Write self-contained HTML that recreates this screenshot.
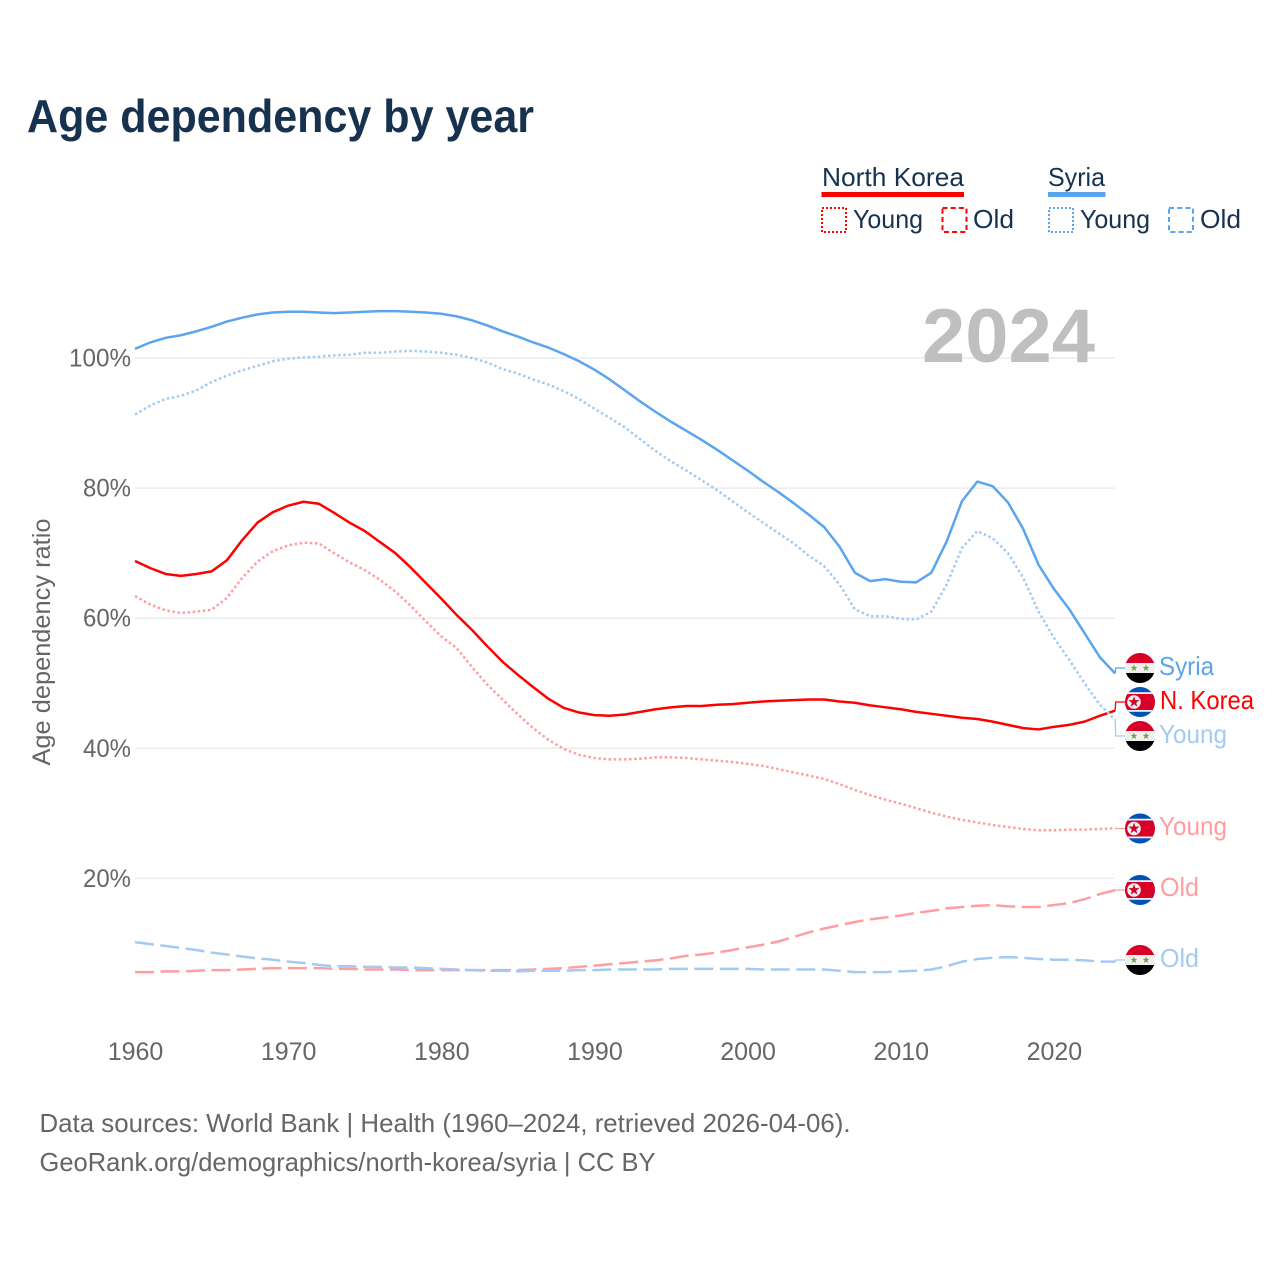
<!DOCTYPE html>
<html lang="en">
<head>
<meta charset="utf-8">
<title>Age dependency by year</title>
<style>
html,body{margin:0;padding:0;background:#fff}
svg{display:block}
text{font-family:"Liberation Sans",sans-serif}
.lg{font-size:26px;fill:#16324f}
.tick{font-size:25px;fill:#666}
.foot{font-size:26px;fill:#666}
.lab{font-size:26px}
</style>
</head>
<body>
<svg id="chart" xmlns="http://www.w3.org/2000/svg" width="1280" height="1280" viewBox="0 0 1280 1280">
  <defs>
    <clipPath id="flag-clip"><circle cx="0" cy="0" r="15"/></clipPath>
    <g id="flag-syria" clip-path="url(#flag-clip)">
      <rect x="-15" y="-15" width="30" height="10" fill="#d80027"/>
      <rect x="-15" y="-5" width="30" height="10" fill="#f0f0f0"/>
      <rect x="-15" y="5" width="30" height="10" fill="#000"/>
      <polygon points="-6,-3.6 -5.1,-1.1 -2.6,-1.1 -4.6,0.5 -3.9,3 -6,1.5 -8.1,3 -7.4,0.5 -9.4,-1.1 -6.9,-1.1" fill="#6da544"/>
      <polygon points="6,-3.6 6.9,-1.1 9.4,-1.1 7.4,0.5 8.1,3 6,1.5 3.9,3 4.6,0.5 2.6,-1.1 5.1,-1.1" fill="#6da544"/>
    </g>
    <g id="flag-nk" clip-path="url(#flag-clip)">
      <rect x="-15" y="-15" width="30" height="30" fill="#0052b4"/>
      <rect x="-15" y="-9.8" width="30" height="19.6" fill="#f0f0f0"/>
      <rect x="-15" y="-8" width="30" height="16" fill="#d80027"/>
      <circle cx="-6" cy="0" r="6.8" fill="#f0f0f0"/>
      <polygon points="-6,-5.8 -4.6,-1.9 -0.5,-1.9 -3.8,0.7 -2.6,4.7 -6,2.3 -9.4,4.7 -8.2,0.7 -11.5,-1.9 -7.4,-1.9" fill="#d80027"/>
    </g>
  </defs>

  <text x="27" y="132" font-size="46" font-weight="700" fill="#16324f" textLength="507" lengthAdjust="spacingAndGlyphs">Age dependency by year</text>

  <g>
    <text class="lg" x="822" y="186" textLength="142" lengthAdjust="spacingAndGlyphs">North Korea</text>
    <rect x="821.5" y="192" width="142.5" height="5" fill="#ff0000"/>
    <rect x="822" y="208" width="24" height="24" fill="none" stroke="#ff0000" stroke-width="2" stroke-dasharray="2 2"/>
    <text class="lg" x="853" y="228" textLength="70" lengthAdjust="spacingAndGlyphs">Young</text>
    <rect x="942.5" y="208" width="24" height="24" fill="none" stroke="#ff0000" stroke-width="2" stroke-dasharray="5 3.2"/>
    <text class="lg" x="973" y="228" textLength="41" lengthAdjust="spacingAndGlyphs">Old</text>

    <text class="lg" x="1048" y="186" textLength="57" lengthAdjust="spacingAndGlyphs">Syria</text>
    <rect x="1048" y="192" width="57.5" height="5" fill="#5ba4ee"/>
    <rect x="1049" y="208" width="24" height="24" fill="none" stroke="#5ba4ee" stroke-width="2" stroke-dasharray="2 2"/>
    <text class="lg" x="1080" y="228" textLength="70" lengthAdjust="spacingAndGlyphs">Young</text>
    <rect x="1169" y="208" width="24" height="24" fill="none" stroke="#5ba4ee" stroke-width="2" stroke-dasharray="5 3.2"/>
    <text class="lg" x="1200" y="228" textLength="41" lengthAdjust="spacingAndGlyphs">Old</text>
  </g>

  <g id="grid"></g>
  <g id="yticks"></g>
  <g id="xticks"></g>

  <text transform="translate(50,642) rotate(-90)" text-anchor="middle" font-size="25" fill="#666" textLength="247" lengthAdjust="spacingAndGlyphs">Age dependency ratio</text>

  <text x="922" y="362" font-size="76" font-weight="700" fill="#bfbfbf" textLength="173" lengthAdjust="spacingAndGlyphs">2024</text>

  <g id="lines"></g>
  <g id="connectors"></g>

  <g>
    <use href="#flag-syria" x="1140" y="668"/>
    <text class="lab" x="1159" y="675" fill="#5ba4ee" textLength="55" lengthAdjust="spacingAndGlyphs">Syria</text>
    <use href="#flag-nk" x="1140" y="702"/>
    <text class="lab" x="1160" y="709" fill="#ff0000" textLength="94" lengthAdjust="spacingAndGlyphs">N. Korea</text>
    <use href="#flag-syria" x="1140" y="736"/>
    <text class="lab" x="1159" y="743" fill="#a3caf3" textLength="68" lengthAdjust="spacingAndGlyphs">Young</text>
    <use href="#flag-nk" x="1140" y="828.5"/>
    <text class="lab" x="1159" y="835" fill="#ff9da0" textLength="68" lengthAdjust="spacingAndGlyphs">Young</text>
    <use href="#flag-nk" x="1140" y="890"/>
    <text class="lab" x="1160" y="896" fill="#ff9da0" textLength="39" lengthAdjust="spacingAndGlyphs">Old</text>
    <use href="#flag-syria" x="1140" y="960"/>
    <text class="lab" x="1160" y="967" fill="#a3caf3" textLength="39" lengthAdjust="spacingAndGlyphs">Old</text>
  </g>

  <text class="foot" x="39.5" y="1132" textLength="811" lengthAdjust="spacingAndGlyphs">Data sources: World Bank | Health (1960–2024, retrieved 2026-04-06).</text>
  <text class="foot" x="39.5" y="1171" textLength="616" lengthAdjust="spacingAndGlyphs">GeoRank.org/demographics/north-korea/syria | CC BY</text>
</svg>

<script>
const startYear = 1960;
const yTickValues = [20, 40, 60, 80, 100];
const xTickValues = [1960, 1970, 1980, 1990, 2000, 2010, 2020];

const syriaTotal = [101.4,102.4,103.1,103.5,104.1,104.8,105.6,106.2,106.7,107.0,107.1,107.1,107.0,106.9,107.0,107.1,107.2,107.2,107.1,107.0,106.8,106.4,105.8,105.0,104.1,103.3,102.4,101.6,100.6,99.5,98.2,96.7,95.0,93.3,91.7,90.2,88.8,87.4,85.9,84.3,82.7,81.0,79.4,77.7,75.9,74.0,71.0,67.0,65.7,66.0,65.6,65.5,67.0,71.8,78.0,81.0,80.3,77.8,73.7,68.2,64.5,61.4,57.7,54.0,51.5];
const syriaYoung = [91.3,92.7,93.7,94.2,95.0,96.3,97.3,98.1,98.8,99.5,99.9,100.1,100.2,100.4,100.5,100.8,100.8,101.0,101.1,101.0,100.8,100.5,100.0,99.3,98.3,97.6,96.7,95.9,94.9,93.7,92.2,90.8,89.3,87.5,85.7,84.1,82.7,81.2,79.7,78.0,76.3,74.7,73.1,71.5,69.6,68.0,65.2,61.4,60.3,60.3,59.9,59.8,61.0,65.2,70.8,73.4,72.3,70.0,66.2,61.0,57.0,53.6,50.0,46.7,44.4];
const syriaOld = [10.2,9.9,9.6,9.3,9.0,8.6,8.3,8.0,7.7,7.5,7.2,7.0,6.7,6.5,6.5,6.4,6.4,6.3,6.3,6.2,6.1,6.0,5.9,5.8,5.8,5.7,5.8,5.8,5.8,5.9,5.9,6.0,6.0,6.0,6.0,6.1,6.1,6.1,6.1,6.1,6.1,6.0,6.0,6.0,6.0,6.0,5.8,5.6,5.6,5.6,5.7,5.8,6.0,6.5,7.2,7.6,7.8,7.9,7.8,7.6,7.5,7.5,7.4,7.2,7.2];
const koreaTotal = [68.8,67.7,66.8,66.5,66.8,67.2,68.9,72.0,74.7,76.3,77.3,77.9,77.6,76.2,74.7,73.4,71.7,70.0,67.8,65.4,63.0,60.5,58.2,55.7,53.3,51.3,49.4,47.6,46.2,45.5,45.1,45.0,45.2,45.6,46.0,46.3,46.5,46.5,46.7,46.8,47.0,47.2,47.3,47.4,47.5,47.5,47.2,47.0,46.6,46.3,46.0,45.6,45.3,45.0,44.7,44.5,44.1,43.6,43.1,42.9,43.3,43.6,44.1,45.0,45.8];
const koreaYoung = [63.4,62.1,61.2,60.8,61.0,61.3,63.1,66.2,68.7,70.3,71.2,71.6,71.5,70.0,68.6,67.4,65.9,64.1,61.9,59.5,57.2,55.4,52.5,49.8,47.5,45.2,43.1,41.3,39.9,39.0,38.5,38.3,38.3,38.4,38.6,38.6,38.5,38.3,38.1,37.9,37.6,37.3,36.8,36.3,35.8,35.3,34.5,33.6,32.8,32.1,31.5,30.8,30.1,29.5,29.0,28.6,28.2,27.9,27.6,27.4,27.4,27.5,27.5,27.6,27.7];
const koreaOld = [5.6,5.6,5.7,5.7,5.8,5.9,5.9,6.0,6.1,6.2,6.2,6.2,6.2,6.1,6.1,6.0,6.0,6.0,5.9,5.9,5.9,5.9,5.9,5.9,5.9,5.9,6.0,6.1,6.2,6.4,6.6,6.8,7.0,7.2,7.4,7.7,8.1,8.3,8.6,9.0,9.4,9.8,10.3,11.0,11.7,12.3,12.8,13.3,13.7,14.0,14.3,14.7,15.0,15.4,15.6,15.8,15.9,15.7,15.6,15.6,15.9,16.2,16.8,17.6,18.2];

const NS = 'http://www.w3.org/2000/svg';
function xScale(year) { return 135 + (year - 1960) * 15.315; }
function yScale(pct) { return 1008.5 - pct * 6.505; }

const gridGroup = document.getElementById('grid');
const yTickGroup = document.getElementById('yticks');
yTickValues.forEach(function (v) {
  const line = document.createElementNS(NS, 'line');
  
  
  line.setAttribute('x1', 135);
  line.setAttribute('x2', 1115);
  line.setAttribute('y1', yScale(v));
  line.setAttribute('y2', yScale(v));
  line.setAttribute('stroke', '#ececec');
  line.setAttribute('stroke-width', 1.5);
  gridGroup.appendChild(line);

  const t = document.createElementNS(NS, 'text');
  
  
  t.setAttribute('class', 'tick');
  t.setAttribute('x', 131);
  t.setAttribute('y', yScale(v) + 8.5);
  t.setAttribute('text-anchor', 'end');
  t.setAttribute('textLength', v === 100 ? 62 : 48);
  t.setAttribute('lengthAdjust', 'spacingAndGlyphs');
  t.textContent = v + '%';
  yTickGroup.appendChild(t);
});

const xTickGroup = document.getElementById('xticks');
xTickValues.forEach(function (y) {
  const t = document.createElementNS(NS, 'text');
  
  
  t.setAttribute('class', 'tick');
  t.setAttribute('x', xScale(y) + 0.5);
  t.setAttribute('y', 1060);
  t.setAttribute('text-anchor', 'middle');
  t.textContent = y;
  xTickGroup.appendChild(t);
});

const lineGroup = document.getElementById('lines');
function drawLine(values, color, dash, name) {
  const p = document.createElementNS(NS, 'polyline');
  
  
  p.setAttribute('points', values.map(function (v, i) {
    return xScale(startYear + i).toFixed(2) + ',' + yScale(v).toFixed(2);
  }).join(' '));
  p.setAttribute('fill', 'none');
  p.setAttribute('stroke', color);
  p.setAttribute('stroke-width', 2.5);
  p.setAttribute('stroke-linejoin', 'round');
  if (dash) p.setAttribute('stroke-dasharray', dash);
  lineGroup.appendChild(p);
}
drawLine(koreaOld, '#ff9da0', '19 6.5', 'line-north-korea-old');
drawLine(koreaYoung, '#ff9da0', '2.5 2.6', 'line-north-korea-young');
drawLine(koreaTotal, '#ff0000', null, 'line-north-korea-total');
drawLine(syriaOld, '#a3caf3', '19 6.5', 'line-syria-old');
drawLine(syriaYoung, '#a3caf3', '2.5 2.6', 'line-syria-young');
drawLine(syriaTotal, '#5ba4ee', null, 'line-syria-total');

const connectorGroup = document.getElementById('connectors');
function drawConnector(values, labelY, color, name) {
  const endX = xScale(startYear + values.length - 1);
  const endY = yScale(values[values.length - 1]);
  const c = document.createElementNS(NS, 'polyline');
  
  
  c.setAttribute('points', endX + ',' + endY + ' ' + (endX + 0.5) + ',' + labelY + ' 1125,' + labelY);
  c.setAttribute('fill', 'none');
  c.setAttribute('stroke', color);
  c.setAttribute('stroke-width', 1.3);
  connectorGroup.appendChild(c);
}
drawConnector(syriaTotal, 668, '#5ba4ee', 'connector-syria-total');
drawConnector(koreaTotal, 702, '#ff0000', 'connector-north-korea-total');
drawConnector(syriaYoung, 736, '#a3caf3', 'connector-syria-young');
drawConnector(koreaYoung, 828.5, '#ff9da0', 'connector-north-korea-young');
drawConnector(koreaOld, 890, '#ff9da0', 'connector-north-korea-old');
drawConnector(syriaOld, 960, '#a3caf3', 'connector-syria-old');
</script>
</body>
</html>
